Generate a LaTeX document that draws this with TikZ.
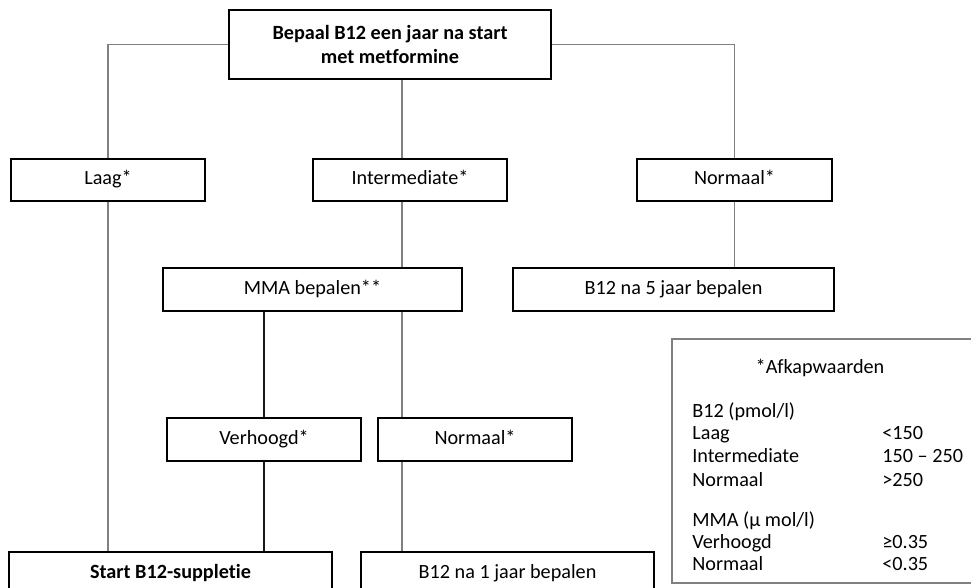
\documentclass[tikz,border=0pt]{standalone}
\usepackage{fontspec}
\setmainfont{Carlito}[Ligatures=NoCommon]
\begin{document}
\begin{tikzpicture}[x=0.02cm, y=-0.02cm,
  font=\fontsize{11.5}{13.5}\selectfont,
  box/.style={draw=black, line width=1.1pt, fill=white, inner sep=0pt, align=center},
  onebox/.style={box, text height=1.6ex, text depth=0.45ex},
  link/.style={draw=black!50, line width=0.8pt},
  darklink/.style={draw=black!90, line width=0.8pt},
  legendtext/.style={anchor=base west, inner sep=0pt}]
% Set the page size
\clip (0, 0) rectangle (971, 588);

% Draw the boxes of the scheme
\node[box, minimum width=322*0.02cm, minimum height=69*0.02cm] (top) at (390, 44.5) {\textbf{Bepaal B12 een jaar na start}\\\textbf{met metformine}};
\node[onebox, minimum width=194*0.02cm, minimum height=42*0.02cm] (laag) at (108, 180) {Laag*};
\node[onebox, minimum width=194*0.02cm, minimum height=42*0.02cm] (inter) at (410, 180) {Intermediate*};
\node[onebox, minimum width=195*0.02cm, minimum height=42*0.02cm] (norm) at (734.5, 180) {Normaal*};
\node[onebox, minimum width=299*0.02cm, minimum height=43*0.02cm] (mma) at (312.5, 289.5) {MMA bepalen**};
\node[onebox, minimum width=321*0.02cm, minimum height=43*0.02cm] (vijf) at (673.5, 289.5) {B12 na 5 jaar bepalen};
\node[onebox, minimum width=194*0.02cm, minimum height=43*0.02cm] (verh) at (264, 439.5) {Verhoogd*};
\node[onebox, minimum width=194*0.02cm, minimum height=43*0.02cm] (normb) at (475, 439.5) {Normaal*};
\node[onebox, minimum width=323*0.02cm, minimum height=44*0.02cm] (start) at (170.5, 574) {\textbf{Start B12-suppletie}};
\node[onebox, minimum width=293*0.02cm, minimum height=44*0.02cm] (een) at (507.5, 574) {B12 na 1 jaar bepalen};

% Draw the connectors
\coordinate (spine) at (402, 0);
\draw[link] (top.west) -| (laag.north);
\draw[link] (top.east) -| (norm.north);
\draw[link] (top.south -| spine) -- (inter.north -| spine);
\draw[link] (inter.south -| spine) -- (mma.north -| spine);
\draw[link] (mma.south -| spine) -- (normb.north -| spine);
\draw[link] (normb.south -| spine) -- (een.north -| spine);
\draw[link] (laag.south) -- (laag.south |- start.north);
\draw[link] (norm.south) -- (norm.south |- vijf.north);
\draw[darklink] (verh.north |- mma.south) -- (verh.north);
\draw[darklink] (verh.south) -- (verh.south |- start.north);

% Draw the legend with the cut-off values
\draw[draw=black!50, line width=1pt] (672, 339) rectangle (1000, 583);
\node (legtitle) at (820, 368) {*Afkapwaarden};
\node[legendtext] (legbtwaalf) at (692, 417) {B12 (pmol/l)};
\node[legendtext] (leglaag) at (692, 439) {Laag};
\node[legendtext] (leginter) at (692, 462) {Intermediate};
\node[legendtext] (legnorm) at (692, 486) {Normaal};
\node[legendtext] (legmma) at (692, 526) {MMA (µ mol/l)};
\node[legendtext] (legverh) at (692, 548) {Verhoogd};
\node[legendtext] (legnormb) at (692, 570) {Normaal};
\node[legendtext] (vallaag) at (882, 439) {<150};
\node[legendtext] (valinter) at (882, 462) {150 – 250};
\node[legendtext] (valnorm) at (882, 486) {>250};
\node[legendtext] (valverh) at (882, 548) {≥0.35};
\node[legendtext] (valnormb) at (882, 570) {<0.35};
\end{tikzpicture}
\end{document}
